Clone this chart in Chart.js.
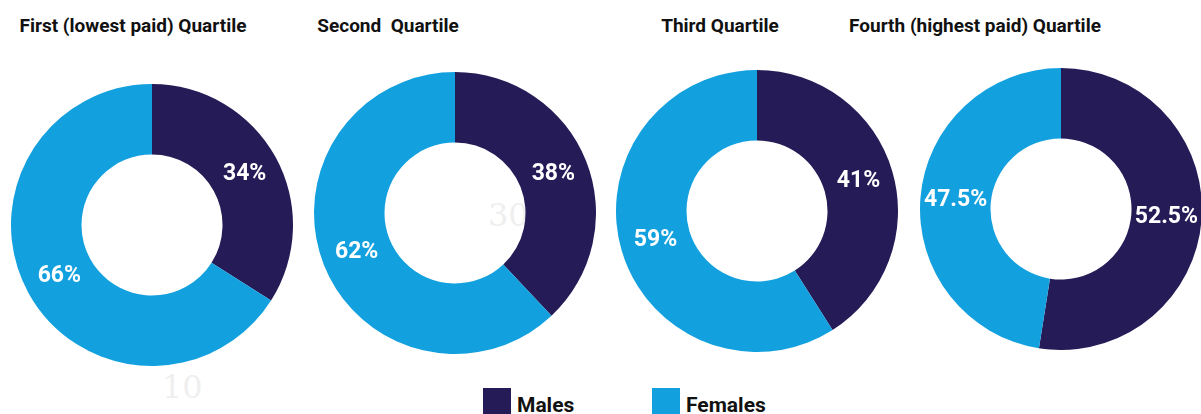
<!DOCTYPE html>
<html>
<head>
<meta charset="utf-8">
<script src="https://cdn.jsdelivr.net/npm/chart.js@4.4.1/dist/chart.umd.min.js"></script>
<style>
  html, body { margin: 0; padding: 0; background: #fff; }
  body { width: 1201px; height: 414px; position: relative; overflow: hidden; font-family: Roboto, "Liberation Sans", sans-serif; }
  .title { position: absolute; top: 14px; font-weight: bold; font-size: 19px; color: #111; white-space: pre; transform: translateX(-50%); }
  .ring { position: absolute; width: 282px; height: 282px; }
  .ghost { position: absolute; font-family: "DejaVu Serif", "Liberation Serif", serif; color: #efefef; font-size: 32px; }
  .legend { position: absolute; top: 388px; font-weight: bold; font-size: 21px; color: #111; display: flex; align-items: flex-start; }
  .legend span.box { display: inline-block; width: 28px; height: 30px; margin-right: 6px; }
  .legend span.lbl { margin-top: 5px; }
</style>
</head>
<body>
<div class="ghost" style="left:488px; top:196px;">30</div>
<div class="ghost" style="left:162px; top:368px;">10</div>

<div id="titles"></div>

<canvas id="q1" class="ring" style="left:11px; top:84px;"></canvas>
<canvas id="q2" class="ring" style="left:314px; top:72px;"></canvas>
<canvas id="q3" class="ring" style="left:616px; top:70px;"></canvas>
<canvas id="q4" class="ring" style="left:920px; top:68px;"></canvas>

<div id="legend"></div>

<script>
const quartileTitles = [
  "First (lowest paid) Quartile",
  "Second  Quartile",
  "Third Quartile",
  "Fourth (highest paid) Quartile",
];
const genders = ["Males", "Females"];
const malesPct = [34, 38, 41, 52.5];
const femalesPct = [66, 62, 59, 47.5];
const genderColors = ["#251c57", "#13a0df"];

const titleCenters = [133, 388, 720, 975];

const titlesEl = document.getElementById("titles");
titlesEl.innerHTML = quartileTitles
  .map((t, i) => `<div class="title" style="left:${titleCenters[i]}px">${t}</div>`)
  .join("");

const legendLefts = [483, 652];
document.getElementById("legend").innerHTML = genders
  .map(
    (g, i) =>
      `<div class="legend" style="left:${legendLefts[i]}px"><span class="box" style="background:${genderColors[i]}"></span><span class="lbl">${g}</span></div>`,
  )
  .join("");

// draw the % value in the middle of each slice
const sliceLabels = {
  id: "sliceLabels",
  afterDatasetsDraw(chart) {
    const { ctx } = chart;
    const meta = chart.getDatasetMeta(0);
    ctx.save();
    ctx.fillStyle = "#fff";
    ctx.font = "bold 23px Roboto, 'Liberation Sans', sans-serif";
    ctx.textAlign = "center";
    ctx.textBaseline = "middle";
    meta.data.forEach((arc, i) => {
      const mid = (arc.startAngle + arc.endAngle) / 2;
      const r = (arc.innerRadius + arc.outerRadius) / 2;
      const x = arc.x + Math.cos(mid) * r;
      const y = arc.y + Math.sin(mid) * r;
      ctx.fillText(`${chart.data.datasets[0].data[i]}%`, x, y);
    });
    ctx.restore();
  },
};

const charts = [];
["q1", "q2", "q3", "q4"].forEach((id, i) => {
  const ctx = document.getElementById(id).getContext("2d");
  charts.push(
    new Chart(ctx, {
      type: "doughnut",
      data: {
        labels: genders,
        datasets: [
          {
            data: [malesPct[i], femalesPct[i]],
            backgroundColor: genderColors,
            borderWidth: 0,
          },
        ],
      },
      options: {
        responsive: false,
        animation: false,
        cutout: "50%",
        layout: { padding: 0 },
        plugins: { legend: { display: false }, tooltip: { enabled: false } },
      },
      plugins: [sliceLabels],
    }),
  );
});
</script>
</body>
</html>
